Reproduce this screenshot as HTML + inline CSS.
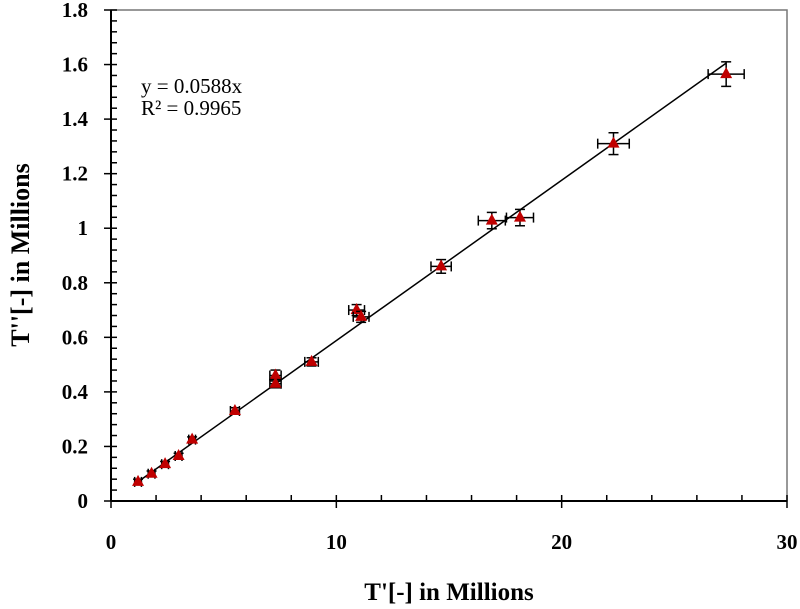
<!DOCTYPE html>
<html><head><meta charset="utf-8"><style>
body{margin:0;background:#fff}
svg text{font-family:"Liberation Serif",serif}
</style></head><body>
<svg width="800" height="609" viewBox="0 0 800 609" style="position:absolute;left:0;top:0">
<g id="g"></g>
</svg>
<script>
const xVals=[1.2,1.8,2.4,3.0,3.6,5.5,7.3,7.3,8.9,10.9,11.1,14.65,16.9,18.15,22.3,27.3];
const yVals=[0.07,0.10,0.135,0.165,0.225,0.33,0.46,0.43,0.51,0.70,0.675,0.86,1.028,1.039,1.31,1.565];
const xErr=[0.15,0.15,0.15,0.15,0.15,0.2,0.25,0.25,0.3,0.35,0.35,0.45,0.6,0.6,0.7,0.8];
const yErr=[0.01,0.01,0.01,0.01,0.01,0.012,0.02,0.015,0.015,0.02,0.02,0.025,0.03,0.03,0.04,0.045];
const xTicks=[0,10,20,30];
const yTicks=[0,0.2,0.4,0.6,0.8,1,1.2,1.4,1.6,1.8];
const slope=0.0588;
const L=111,R=787,T=10,B=501;
const X=v=>L+v/30*(R-L), Y=v=>B-v/1.8*(B-T);
const g=document.getElementById('g');
const NS='http://www.w3.org/2000/svg';
function mk(tag,attrs,parent){const e=document.createElementNS(NS,tag);for(const k in attrs)e.setAttribute(k,attrs[k]);(parent||g).appendChild(e);return e;}
let e;
e=mk('rect',{x:L,y:T,width:R-L,height:B-T,fill:'none',stroke:'#777','stroke-width':1.5});

e=mk('line',{x1:L,y1:T,x2:L,y2:B,stroke:'#000','stroke-width':2});

e=mk('line',{x1:L,y1:B,x2:R,y2:B,stroke:'#000','stroke-width':2});

for(let v=0;v<=30.001;v+=2){const maj=Math.abs(v%10)<0.01;mk('line',{x1:X(v),x2:X(v),y1:maj?B+7:B,y2:B-6,stroke:'#000','stroke-width':1.5});}
for(let i=0;i<=45;i++){const v=i*0.04;const maj=(i%5==0);mk('line',{x1:maj?L-7:L,x2:L+6,y1:Y(v),y2:Y(v),stroke:'#000','stroke-width':1.5});}
xTicks.forEach(v=>{e=mk('text',{x:X(v),y:549,'text-anchor':'middle','font-size':21,'font-weight':'bold'});e.textContent=v;
});
yTicks.forEach(v=>{e=mk('text',{x:88,y:Y(v)+7,'text-anchor':'end','font-size':21,'font-weight':'bold'});e.textContent=v;
});
e=mk('line',{x1:X(xVals[0]),y1:Y(slope*xVals[0]),x2:X(27.3),y2:Y(slope*27.3),stroke:'#000','stroke-width':1.5});

xVals.forEach((xv,i)=>{const yv=yVals[i],cx=X(xv),cy=Y(yv);
const eg=mk('g',{stroke:'#000','stroke-width':1.5});

const x1=X(xv-xErr[i]),x2=X(xv+xErr[i]),y1=Y(yv-yErr[i]),y2=Y(yv+yErr[i]);
mk('line',{x1:x1,x2:x2,y1:cy,y2:cy},eg);mk('line',{x1:x1,x2:x1,y1:cy-5,y2:cy+5},eg);mk('line',{x1:x2,x2:x2,y1:cy-5,y2:cy+5},eg);
mk('line',{x1:cx,x2:cx,y1:y1,y2:y2},eg);mk('line',{x1:cx-5,x2:cx+5,y1:y1,y2:y1},eg);mk('line',{x1:cx-5,x2:cx+5,y1:y2,y2:y2},eg);
const p=mk('polygon',{points:`${cx},${cy-7} ${cx-6},${cy+4} ${cx+6},${cy+4}`,fill:'#c00000'});
});
</script>
<svg style="position:absolute;left:0;top:0" width="800" height="609">
<text x="141" y="93" font-size="21" font-family="Liberation Serif">y = 0.0588x</text>
<text x="141" y="115" font-size="21" font-family="Liberation Serif">R² = 0.9965</text>
<text x="449" y="600" text-anchor="middle" font-size="25" font-weight="bold" font-family="Liberation Serif">T'[-] in Millions</text>
<text transform="translate(29,255) rotate(-90)" text-anchor="middle" font-size="26" font-weight="bold" font-family="Liberation Serif">T''[-] in Millions</text>
</svg>
</body></html>
